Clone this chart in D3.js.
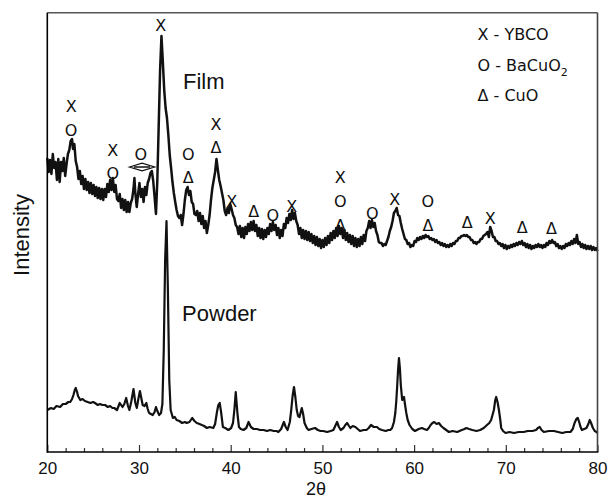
<!DOCTYPE html>
<html><head><meta charset="utf-8">
<script src="https://cdn.jsdelivr.net/npm/d3@7"></script>
<style>body{margin:0;background:#fff}svg{display:block}</style>
</head><body>
<script>
// ---- data (2θ in degrees, intensity in arbitrary units) ----
const xTicks = [20, 30, 40, 50, 60, 70, 80];
const xMinorTicks = [22, 24, 26, 28, 32, 34, 36, 38, 42, 44, 46, 48, 52, 54, 56, 58, 62, 64, 66, 68, 72, 74, 76, 78];
const seriesNames = ["Film", "Powder"];

const filmPattern = [
[20.0,294],[20.15,280],[20.3,292],[20.45,278],[20.6,298],[20.75,284],[20.9,290],[21.05,272],[21.2,293],[21.35,270],
[21.5,290],[21.65,281],[21.8,294],[21.95,276],[22.1,288],[22.25,298],[22.4,302],[22.55,311],[22.7,313],[22.8,303],
[22.95,308],[23.1,291],[23.25,285],[23.4,273],[23.55,281],[23.7,268],[23.85,276],[24.0,263],[24.15,273],[24.3,262],
[24.45,270],[24.6,259],[24.75,269],[24.9,258],[25.05,267],[25.2,256],[25.35,265],[25.5,254],[25.65,264],[25.8,253],
[25.95,263],[26.1,252],[26.25,263],[26.4,255],[26.55,268],[26.7,260],[26.85,272],[27.0,262],[27.15,274],[27.3,260],
[27.45,267],[27.6,253],[27.75,251],[27.9,258],[28.05,244],[28.2,253],[28.35,242],[28.5,252],[28.65,240],[28.8,250],
[28.95,240],[29.1,249],[29.25,253],[29.4,263],[29.5,274],[29.6,259],[29.75,245],[29.9,258],[30.05,269],[30.2,255],
[30.35,263],[30.5,250],[30.65,265],[30.8,257],[30.95,269],[31.1,273],[31.25,279],[31.4,281],[31.55,271],[31.7,255],
[31.85,238],[32.0,272],[32.15,327],[32.3,382],[32.45,416],[32.6,390],[32.75,362],[32.9,344],[33.05,334],[33.2,317],
[33.35,297],[33.5,284],[33.65,270],[33.8,259],[33.95,250],[34.1,242],[34.25,236],[34.4,234],[34.55,237],[34.7,227],
[34.85,238],[35.0,252],[35.15,262],[35.3,265],[35.45,257],[35.6,261],[35.75,250],[35.9,248],[36.05,238],[36.2,237],
[36.35,241],[36.5,231],[36.65,239],[36.8,228],[36.95,236],[37.1,224],[37.25,231],[37.4,219],[37.55,227],[37.7,237],
[37.85,252],[38.0,264],[38.15,272],[38.3,280],[38.45,293],[38.6,282],[38.75,272],[38.9,266],[39.05,259],[39.2,252],
[39.35,241],[39.5,237],[39.65,244],[39.8,239],[39.95,248],[40.1,243],[40.25,237],[40.4,234],[40.55,227],[40.7,225],
[40.85,218],[41.0,226],[41.15,215],[41.3,224],[41.45,214],[41.6,225],[41.75,218],[41.9,228],[42.05,221],[42.2,230],
[42.35,222],[42.5,231],[42.65,221],[42.8,227],[42.95,216],[43.1,224],[43.25,214],[43.4,223],[43.55,213],[43.7,222],
[43.85,215],[44.0,224],[44.15,218],[44.3,228],[44.45,221],[44.6,230],[44.75,222],[44.9,227],[45.05,217],[45.2,224],
[45.35,214],[45.5,222],[45.65,216],[45.8,228],[45.95,224],[46.1,234],[46.25,229],[46.4,238],[46.55,232],[46.7,242],
[46.85,233],[47.0,239],[47.15,231],[47.3,227],[47.45,218],[47.6,224],[47.75,214],[47.9,222],[48.05,213],[48.2,221],
[48.35,212],[48.5,220],[48.65,211],[48.8,218],[48.95,209],[49.1,216],[49.25,207],[49.4,215],[49.55,206],[49.7,213],
[49.85,204],[50.0,212],[50.15,205],[50.3,214],[50.45,207],[50.6,216],[50.75,209],[50.9,219],[51.05,212],[51.2,221],
[51.35,214],[51.5,224],[51.65,216],[51.8,226],[51.95,218],[52.1,224],[52.25,214],[52.4,222],[52.55,212],[52.7,219],
[52.85,210],[53.0,217],[53.15,208],[53.3,216],[53.45,206],[53.6,214],[53.75,205],[53.9,213],[54.05,206],[54.2,215],
[54.35,208],[54.5,217],[54.65,211],[54.8,221],[54.95,224],[55.1,231],[55.25,224],[55.4,232],[55.55,225],[55.7,229],
[55.85,221],[56.0,217],[56.15,210],[56.3,209],[56.45,209],[56.6,206],[56.75,208],[56.9,207],[57.05,211],[57.2,215],
[57.35,221],[57.5,225],[57.65,231],[57.8,239],[57.95,241],[58.1,244],[58.25,237],[58.4,236],[58.55,229],[58.7,223],
[58.85,218],[59.0,213],[59.15,212],[59.3,208],[59.45,209],[59.6,205],[59.75,207],[59.9,206],[60.05,211],[60.2,210],
[60.35,214],[60.5,212],[60.65,215],[60.8,213],[60.95,216],[61.1,214],[61.25,217],[61.4,215],[61.55,216],[61.7,213],
[61.85,214],[62.0,212],[62.15,213],[62.3,210],[62.45,212],[62.6,209],[62.75,210],[62.9,207],[63.05,209],[63.2,206],
[63.35,208],[63.5,205],[63.65,207],[63.8,205],[63.95,208],[64.1,206],[64.25,209],[64.4,208],[64.55,211],[64.7,211],
[64.85,214],[65.0,214],[65.15,216],[65.3,216],[65.45,217],[65.6,216],[65.75,217],[65.9,215],[66.05,215],[66.2,212],
[66.35,212],[66.5,209],[66.65,210],[66.8,208],[66.95,210],[67.1,210],[67.25,213],[67.4,213],[67.55,216],[67.7,217],
[67.85,218],[68.0,220],[68.15,215],[68.3,225],[68.45,221],[68.6,215],[68.75,215],[68.9,211],[69.05,211],[69.2,208],
[69.35,209],[69.5,206],[69.65,208],[69.8,204],[69.95,207],[70.1,203],[70.25,206],[70.4,204],[70.55,207],[70.7,205],
[70.85,208],[71.0,206],[71.15,209],[71.3,207],[71.45,210],[71.6,208],[71.75,211],[71.9,207],[72.05,209],[72.2,205],
[72.35,208],[72.5,204],[72.65,207],[72.8,203],[72.95,206],[73.1,204],[73.25,207],[73.4,205],[73.55,208],[73.7,205],
[73.85,207],[74.0,204],[74.15,207],[74.3,205],[74.45,209],[74.6,207],[74.75,211],[74.9,209],[75.05,212],[75.2,209],
[75.35,210],[75.5,206],[75.65,208],[75.8,204],[75.95,206],[76.1,203],[76.25,206],[76.4,204],[76.55,208],[76.7,206],
[76.85,209],[77.0,207],[77.15,211],[77.3,208],[77.45,213],[77.6,209],[77.75,217],[77.9,208],[78.05,210],[78.2,205],
[78.35,208],[78.5,204],[78.65,207],[78.8,203],[78.95,206],[79.1,203],[79.25,206],[79.4,202],[79.55,205],[79.7,202],
[79.85,204],[80.0,201]
];

const powderPattern = [
[20.0,42],[20.4,44],[20.7,43],[21.0,46],[21.4,45],[21.7,48],[22.0,48],[22.3,50],[22.5,50],[22.7,53],[22.85,57],[23.0,62],
[23.1,64],[23.25,60],[23.35,56],[23.6,52],[23.85,53],[24.1,51],[24.4,50],[24.7,49],[25.0,50],[25.2,49],[25.5,47],[25.75,48],
[26.0,47],[26.3,47],[26.6,45],[26.85,46],[27.1,44],[27.3,44],[27.6,42],[27.9,49],[28.2,45],[28.4,48],[28.6,54],[28.8,46],
[28.95,42],[29.15,50],[29.4,63],[29.6,49],[29.76,44],[29.95,54],[30.1,61],[30.25,54],[30.4,47],[30.6,46],[30.8,49],[30.95,43],
[31.1,39],[31.3,38],[31.5,37],[31.7,40],[31.85,45],[32.0,41],[32.2,37],[32.4,39],[32.55,48],[32.7,102],[32.85,192],[33.0,231],
[33.15,162],[33.3,72],[33.45,42],[33.7,34],[33.9,35],[34.1,32],[34.4,31],[34.7,29],[35.0,30],[35.2,29],[35.5,30],[35.8,34],
[36.05,31],[36.3,29],[36.6,28],[36.85,27],[37.1,26],[37.4,24],[37.7,25],[38.1,24],[38.3,28],[38.5,40],[38.65,47],[38.8,49],
[38.95,40],[39.15,25],[39.4,24],[39.75,22],[40.05,24],[40.25,29],[40.4,42],[40.55,60],[40.75,37],[40.9,25],[41.1,23],[41.4,22],
[41.7,24],[41.95,30],[42.2,25],[42.5,23],[42.85,23],[43.2,22],[43.6,22],[43.95,21],[44.3,22],[44.7,21],[45.0,21],[45.2,20],
[45.5,23],[45.8,30],[46.0,25],[46.2,22],[46.45,30],[46.6,42],[46.75,56],[46.9,65],[47.05,55],[47.2,42],[47.35,36],[47.5,35],
[47.75,44],[47.9,38],[48.05,29],[48.3,24],[48.5,22],[48.8,23],[49.2,24],[49.5,22],[49.8,21],[50.1,21],[50.5,20],[50.9,21],
[51.2,22],[51.4,26],[51.6,30],[51.8,25],[52.0,22],[52.3,24],[52.5,27],[52.7,29],[52.9,26],[53.05,24],[53.3,26],[53.6,25],
[53.85,23],[54.1,21],[54.5,22],[54.8,22],[55.05,24],[55.3,27],[55.6,25],[55.95,25],[56.2,23],[56.5,22],[56.9,21],[57.2,22],
[57.4,22],[57.6,24],[57.8,30],[57.95,39],[58.05,50],[58.15,65],[58.25,82],[58.35,94],[58.45,84],[58.55,67],[58.7,52],[58.8,54],
[58.9,55],[59.0,48],[59.15,39],[59.3,32],[59.5,27],[59.8,23],[60.1,21],[60.5,23],[60.85,24],[61.1,23],[61.4,22],[61.6,24],
[61.8,27],[62.0,29],[62.2,30],[62.45,28],[62.7,29],[62.95,26],[63.2,24],[63.5,22],[63.8,20],[64.2,21],[64.7,20],[65.2,22],
[65.5,23],[65.7,24],[66.0,23],[66.35,22],[66.8,21],[67.2,22],[67.6,24],[67.95,27],[68.2,29],[68.4,32],[68.55,37],[68.7,42],
[68.85,52],[68.95,55],[69.1,50],[69.25,42],[69.4,32],[69.5,24],[69.7,21],[69.97,19],[70.4,20],[70.9,19],[71.4,20],[71.95,20],
[72.4,21],[72.9,21],[73.3,22],[73.5,24],[73.7,25],[73.9,22],[74.15,20],[74.7,21],[75.25,21],[75.7,20],[76.15,19],[76.6,20],
[77.05,20],[77.3,23],[77.5,29],[77.7,33],[77.85,34],[78.0,30],[78.15,25],[78.3,22],[78.55,23],[78.8,24],[79.0,28],[79.15,32],
[79.3,29],[79.5,24],[79.7,21],[79.9,20],[80.0,19]
];

// phase markers: label, 2θ, intensity level
const peakMarks = [
["X",32.36,427],
["X",22.6,346],["O",22.6,322],
["X",27.14,302],["O",27.14,279],
["O",30.2,298],
["O",35.38,298],["Δ",35.38,275],
["X",38.39,328],["Δ",38.39,305],
["X",40.12,251],["Δ",42.5,241],["O",44.58,237],["X",46.65,246],
["X",51.95,275],["O",51.95,251],["Δ",51.95,227],
["O",55.43,239],["X",57.9,253],
["O",61.5,251],["Δ",61.5,227],
["Δ",65.78,230],["X",68.29,234],["Δ",71.8,225],["Δ",74.98,224]
];
const arrowMark = [30.33, 285];
const legendItems = [["X - YBCO", ""], ["O - BaCuO", "2"], ["Δ - CuO", ""]];
const seriesLabelPos = [[34.8, 363], [34.7, 131]];

// ---- drawing ----
const W = 610, H = 499;
const L = 47.3, R = 597.5, T = 12.7, B = 452;
const svg = d3.select("body").append("svg").attr("width", W).attr("height", H);
const x = d3.scaleLinear().domain([20, 80]).range([L, R]);
const y = d3.scaleLinear().domain([0, 439.3]).range([B, T]);
const sans = "Liberation Sans, Arial, sans-serif";
const mark = "DejaVu Sans, Verdana, sans-serif";

const line = d3.line().x(d => x(d[0])).y(d => y(d[1]));
svg.append("path").datum(powderPattern).attr("d", line)
  .attr("fill", "none").attr("stroke", "#111").attr("stroke-width", 2.2).attr("stroke-linejoin", "round");
svg.append("path").datum(filmPattern).attr("d", line)
  .attr("fill", "none").attr("stroke", "#111").attr("stroke-width", 2.5).attr("stroke-linejoin", "round");

// axes
const axMaj = d3.axisBottom(x).tickValues(xTicks).tickSize(-7).tickPadding(10).tickFormat(d3.format("d"));
const gMaj = svg.append("g").attr("transform", `translate(0,${B})`).call(axMaj);
gMaj.select(".domain").remove();
gMaj.selectAll("text").attr("font-family", sans).attr("font-size", 17).attr("fill", "#111");
gMaj.selectAll("line").attr("stroke", "#333").attr("stroke-width", 1.2);
const axMin = d3.axisBottom(x).tickValues(xMinorTicks).tickSize(-4).tickFormat("");
const gMin = svg.append("g").attr("transform", `translate(0,${B})`).call(axMin);
gMin.select(".domain").remove();
gMin.selectAll("line").attr("stroke", "#333").attr("stroke-width", 1.2);

// frame
svg.append("line").attr("x1", L).attr("x2", R).attr("y1", T).attr("y2", T).attr("stroke", "#555").attr("stroke-width", 1.6);
svg.append("line").attr("x1", R).attr("x2", R).attr("y1", T).attr("y2", B).attr("stroke", "#444").attr("stroke-width", 1.6);
svg.append("line").attr("x1", L).attr("x2", L).attr("y1", T).attr("y2", B + 0.8).attr("stroke", "#000").attr("stroke-width", 1.6);
svg.append("line").attr("x1", L).attr("x2", R + 0.8).attr("y1", B).attr("y2", B).attr("stroke", "#000").attr("stroke-width", 1.6);

// axis titles
svg.append("text").attr("x", 316).attr("y", 495).attr("text-anchor", "middle")
  .attr("font-family", sans).attr("font-size", 18).attr("fill", "#111").text("2θ");
svg.append("text").attr("transform", `translate(29,235) rotate(-90)`).attr("text-anchor", "middle")
  .attr("font-family", sans).attr("font-size", 22).attr("fill", "#111").text("Intensity");

// series labels
svg.selectAll("text.series").data(seriesNames).join("text").attr("class", "series")
  .attr("x", (d, i) => x(seriesLabelPos[i][0])).attr("y", (d, i) => y(seriesLabelPos[i][1]))
  .attr("font-family", sans).attr("font-size", 22).attr("fill", "#111").text(d => d);

// peak markers
svg.selectAll("text.pk").data(peakMarks).join("text").attr("class", "pk")
  .attr("x", d => x(d[1])).attr("y", d => y(d[2]) + 6).attr("text-anchor", "middle")
  .attr("font-family", mark).attr("font-size", 16).attr("fill", "#111").text(d => d[0]);

// double-headed open arrow (diamond)
const ax = x(arrowMark[0]), ay = y(arrowMark[1]);
svg.append("path")
  .attr("d", `M${ax-12.5},${ay} L${ax},${ay-3.8} L${ax+12.5},${ay} L${ax},${ay+3.8} Z M${ax-8},${ay} L${ax+8},${ay}`)
  .attr("fill", "#fff").attr("stroke", "#111").attr("stroke-width", 1.3);

// legend
const lg = svg.append("g");
legendItems.forEach((d, i) => {
  const t = lg.append("text").attr("x", 477.5).attr("y", 40 + i * 30.7)
    .attr("font-family", mark).attr("font-size", 16).attr("fill", "#111");
  t.append("tspan").text(d[0]);
  if (d[1]) t.append("tspan").attr("dy", 5).attr("font-size", 11).text(d[1]);
});
</script>
</body></html>
